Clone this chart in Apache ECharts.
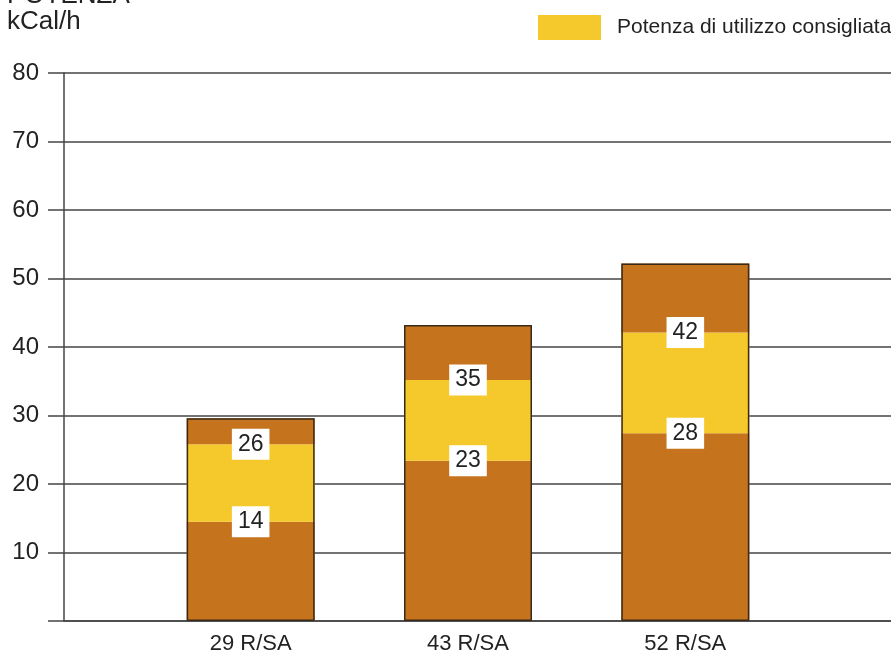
<!DOCTYPE html>
<html><head><meta charset="utf-8">
<script src="https://cdn.jsdelivr.net/npm/echarts@6/dist/echarts.min.js"></script>
<style>html,body{margin:0;padding:0;background:#fff}#c{width:891px;height:655px}</style>
</head><body><div id="c"></div>
<script>
var categories = ['29 R/SA', '43 R/SA', '52 R/SA'];
var lowerBound = [14.5, 23.4, 27.4];
var upperBound = [25.8, 35.2, 42.1];
var totals = [29.6, 43.2, 52.2];
var lowerLabels = ['14', '23', '28'];
var upperLabels = ['26', '35', '42'];
var legendName = 'Potenza di utilizzo consigliata';

var brown = '#c6731e', yellow = '#f5c92c', lineCol = '#444';
var FONT = 'Liberation Sans, Arial, sans-serif';
var midSeg = upperBound.map(function(v, i){ return +(v - lowerBound[i]).toFixed(2); });
var topSeg = totals.map(function(v, i){ return +(v - upperBound[i]).toFixed(2); });
var lblStyle = {show:true, position:'inside', backgroundColor:'#ffffff', padding:[5,6,3,6],
  fontSize:23, color:'#222', fontFamily:FONT, opacity:1};

var chart = echarts.init(document.getElementById('c'), null, {renderer:'canvas'});
chart.setOption({
  backgroundColor:'#fff',
  animation:false,
  textStyle:{fontFamily:FONT},
  graphic:[
    {type:'text', left:7, top:-17, style:{text:'POTENZA', fontSize:26, fill:'#222', fontFamily:FONT}},
    {type:'text', left:7, top:9, style:{text:'kCal/h', fontSize:26, fill:'#222', fontFamily:FONT}}
  ],
  legend:{data:[legendName], left:533, top:10, itemWidth:63, itemHeight:25, icon:'rect',
    textStyle:{fontSize:21, color:'#222', padding:[0,0,0,11]}},
  grid:[
    {left:64, right:0, top:73, bottom:34},
    {left:142, right:97, top:73, bottom:34}
  ],
  xAxis:[
    {gridIndex:0, type:'value', min:0, max:1, axisLine:{show:true, lineStyle:{color:lineCol, width:1.5}},
      axisTick:{show:false}, axisLabel:{show:false}, splitLine:{show:false}},
    {gridIndex:1, type:'category', data:categories, axisLine:{show:false}, axisTick:{show:false},
      axisLabel:{fontSize:22, color:'#222', margin:12}}
  ],
  yAxis:[
    {gridIndex:0, type:'value', min:0, max:80, interval:10,
      axisLine:{show:true, lineStyle:{color:lineCol, width:1.5}},
      axisTick:{show:true, length:16, lineStyle:{color:lineCol, width:1.5}},
      axisLabel:{fontSize:24, color:'#222', margin:25, formatter:function(v){ return v === 0 ? '' : String(v); }},
      splitLine:{show:true, lineStyle:{color:lineCol, width:1.5}}},
    {gridIndex:1, type:'value', min:0, max:80, show:false}
  ],
  series:[
    {type:'bar', name:'base', xAxisIndex:1, yAxisIndex:1, stack:'s', data:lowerBound, barWidth:128,
      itemStyle:{color:brown}, z:3},
    {type:'bar', name:legendName, xAxisIndex:1, yAxisIndex:1, stack:'s', data:midSeg, barWidth:128,
      itemStyle:{color:yellow}, z:3},
    {type:'bar', name:'top', xAxisIndex:1, yAxisIndex:1, stack:'s', data:topSeg, barWidth:128,
      itemStyle:{color:brown}, z:3},
    {type:'bar', name:'outline', xAxisIndex:1, yAxisIndex:1, data:totals, barWidth:128, barGap:'-100%',
      itemStyle:{color:'rgba(0,0,0,0)', borderColor:'#3a2a1a', borderWidth:1.5}, z:4, silent:true},
    {type:'scatter', name:'lo', xAxisIndex:1, yAxisIndex:1, symbolSize:0, z:5,
      itemStyle:{opacity:1},
      data:lowerBound.map(function(v,i){ return [i, v]; }),
      label:Object.assign({formatter:function(p){ return lowerLabels[p.dataIndex]; }}, lblStyle)},
    {type:'scatter', name:'hi', xAxisIndex:1, yAxisIndex:1, symbolSize:0, z:5,
      itemStyle:{opacity:1},
      data:upperBound.map(function(v,i){ return [i, v]; }),
      label:Object.assign({formatter:function(p){ return upperLabels[p.dataIndex]; }}, lblStyle)}
  ]
});
</script></body></html>
